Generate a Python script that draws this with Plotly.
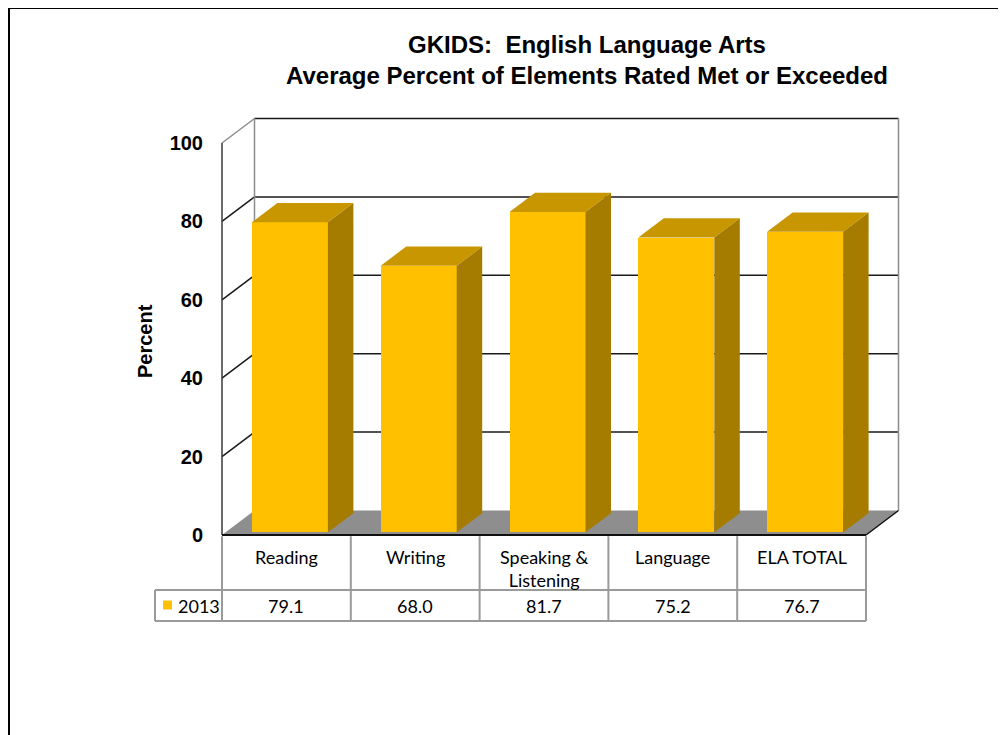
import plotly.graph_objects as go

# ---------------- data ----------------
categories = ["Reading", "Writing", "Speaking &<br>Listening", "Language", "ELA TOTAL"]
series_name = "2013"
values = [79.1, 68.0, 81.7, 75.2, 76.7]
y_ticks = [0, 20, 40, 60, 80, 100]

title_text = "GKIDS:  English Language Arts<br>Average Percent of Elements Rated Met or Exceeded"
y_title = "Percent"

# ---------------- geometry / style ----------------
OFF = 8                                   # page body margin in the browser
W_FIG, H_FIG = 1006 - OFF, 735 - OFF
FRONT_LEFT_PX, CAT_PX = 222.0, 128.8      # (window px) front floor left edge, px per category
ZERO_PX, UNIT_PX = 535.0, 3.92            # (window px) y=0 position and px per unit
DX, DY = 32.5 / CAT_PX, 24.5 / UNIT_PX    # wall depth in data units
BAR_W = 76.0 / CAT_PX
G = 25.5 / 32.5                           # bar depth fraction
F = 0.5 - G / 2                           # bar front depth fraction

def px_x(p):
    return -0.5 + (p - FRONT_LEFT_PX) / CAT_PX

def px_y(q):
    return (ZERO_PX - q) / UNIT_PX

def paper_x(p):
    return (p - OFF) / W_FIG

def paper_y(q):
    return 1 - (q - OFF) / H_FIG

FRONT_C = "#FFC000"
TOP_C = "#C89700"
SIDE_C = "#A67C00"
FLOOR_C = "#8E8E8E"
GRID_C = "#1a1a1a"
EDGE_C = "#8c8c8c"
TABLE_C = "#9a9a9a"
ARIAL = "Liberation Sans, Arial, sans-serif"

n = len(values)
x_left, x_right = -0.5, n - 0.5

fig = go.Figure()

# front faces of the bars
bx = [i + F * DX for i in range(n)]
base = F * DY
fig.add_trace(go.Bar(
    x=bx, y=values, base=[base] * n, width=BAR_W,
    marker=dict(color=FRONT_C, line=dict(width=0)),
    showlegend=False, hoverinfo="skip",
))

# top and side faces
for i, v in enumerate(values):
    x0 = bx[i] - BAR_W / 2
    x1 = bx[i] + BAR_W / 2
    top = v + base
    ox, oy = G * DX, G * DY
    fig.add_trace(go.Scatter(
        x=[x0, x1, x1 + ox, x0 + ox, x0],
        y=[top, top, top + oy, top + oy, top],
        mode="lines", fill="toself", fillcolor=TOP_C,
        line=dict(width=0, color=TOP_C), showlegend=False, hoverinfo="skip",
    ))
    fig.add_trace(go.Scatter(
        x=[x1, x1 + ox, x1 + ox, x1, x1],
        y=[base, base + oy, top + oy, top, base],
        mode="lines", fill="toself", fillcolor=SIDE_C,
        line=dict(width=0, color=SIDE_C), showlegend=False, hoverinfo="skip",
    ))

# legend key in the data table
fig.add_trace(go.Scatter(
    x=[px_x(167.5)], y=[px_y(605)], mode="markers",
    marker=dict(symbol="square", size=9, color=FRONT_C, line=dict(width=0)),
    showlegend=False, hoverinfo="skip",
))

shapes = []

def line(x0, y0, x1, y1, color, width, layer="below"):
    shapes.append(dict(type="line", xref="x", yref="y", x0=x0, y0=y0, x1=x1, y1=y1,
                       line=dict(color=color, width=width), layer=layer))

# back wall gridlines
for t in y_ticks:
    if t == 0:
        continue
    line(x_left + DX, t + DY, x_right + DX, t + DY, GRID_C, 1.5)
# left wall gridlines
for t in y_ticks:
    if t in (0, 100):
        continue
    line(x_left, t, x_left + DX, t + DY, GRID_C, 1.5)
# wall edges
line(x_left, y_ticks[-1], x_left + DX, y_ticks[-1] + DY, EDGE_C, 1.5)
line(x_left + DX, DY, x_left + DX, y_ticks[-1] + DY, EDGE_C, 1.5)
line(x_right + DX, DY, x_right + DX, y_ticks[-1] + DY, EDGE_C, 1.5)
line(x_left, 0, x_left, y_ticks[-1], "#3a3a3a", 1.5)

# floor
shapes.append(dict(
    type="path", xref="x", yref="y", layer="below",
    path=f"M {x_left},0 L {x_right},0 L {x_right + DX},{DY} L {x_left + DX},{DY} Z",
    fillcolor=FLOOR_C, line=dict(width=0),
))
line(x_left, 0, x_right, 0, "#111111", 2)
line(x_right, 0, x_right + DX, DY, "#111111", 1.5)

# data table
row_mid = px_y(590)
row_bot = px_y(621)
leg_left = px_x(155)
for k in range(n + 1):
    line(x_left + k, -0.3, x_left + k, row_bot, TABLE_C, 2, "above")
line(leg_left, row_mid, x_right, row_mid, TABLE_C, 2, "above")
line(leg_left, row_bot, x_right, row_bot, TABLE_C, 2, "above")
line(leg_left, row_mid, leg_left, row_bot, TABLE_C, 2, "above")

# outer border of the chart area
shapes.append(dict(type="rect", xref="paper", yref="paper",
                   x0=paper_x(9), x1=1.02, y0=-0.02, y1=paper_y(8),
                   line=dict(color="black", width=2), fillcolor="rgba(0,0,0,0)",
                   layer="above"))

annotations = []
table_font = dict(family="Lato, Open Sans, sans-serif", size=18, color="black")
for i, c in enumerate(categories):
    annotations.append(dict(x=i, y=px_y(544), xref="x", yref="y", text=c,
                            showarrow=False, xanchor="center", yanchor="top",
                            font=table_font))
    annotations.append(dict(x=i, y=(row_mid + row_bot) / 2, xref="x", yref="y",
                            text=f"{values[i]:.1f}", showarrow=False,
                            xanchor="center", yanchor="middle", font=table_font))
annotations.append(dict(x=px_x(176), y=(row_mid + row_bot) / 2, xref="x", yref="y",
                        text=series_name, showarrow=False, xanchor="left",
                        yanchor="middle", font=table_font))
annotations.append(dict(x=paper_x(145), y=paper_y(341), xref="paper", yref="paper",
                        text=y_title, textangle=-90, showarrow=False,
                        xanchor="center", yanchor="middle",
                        font=dict(family=ARIAL, size=20, color="black", weight="bold")))

fig.update_layout(
    width=W_FIG, height=H_FIG,
    margin=dict(l=0, r=0, t=0, b=0),
    paper_bgcolor="white", plot_bgcolor="white",
    title=dict(text=title_text, x=paper_x(587), xanchor="center",
               y=paper_y(53), yanchor="middle",
               font=dict(family=ARIAL, size=24, color="black", weight="bold")),
    xaxis=dict(range=[px_x(OFF), px_x(1006)], visible=False, fixedrange=True),
    yaxis=dict(range=[px_y(735), px_y(OFF)], anchor="free", position=paper_x(FRONT_LEFT_PX),
               tickvals=y_ticks, ticktext=[str(t) for t in y_ticks],
               showgrid=False, zeroline=False, showline=False,
               ticks="outside", ticklen=15, tickcolor="rgba(0,0,0,0)",
               tickfont=dict(family=ARIAL, size=20, color="black", weight="bold"),
               fixedrange=True),
    shapes=shapes, annotations=annotations,
    showlegend=False, bargap=0,
)

fig.write_html("out.html")
